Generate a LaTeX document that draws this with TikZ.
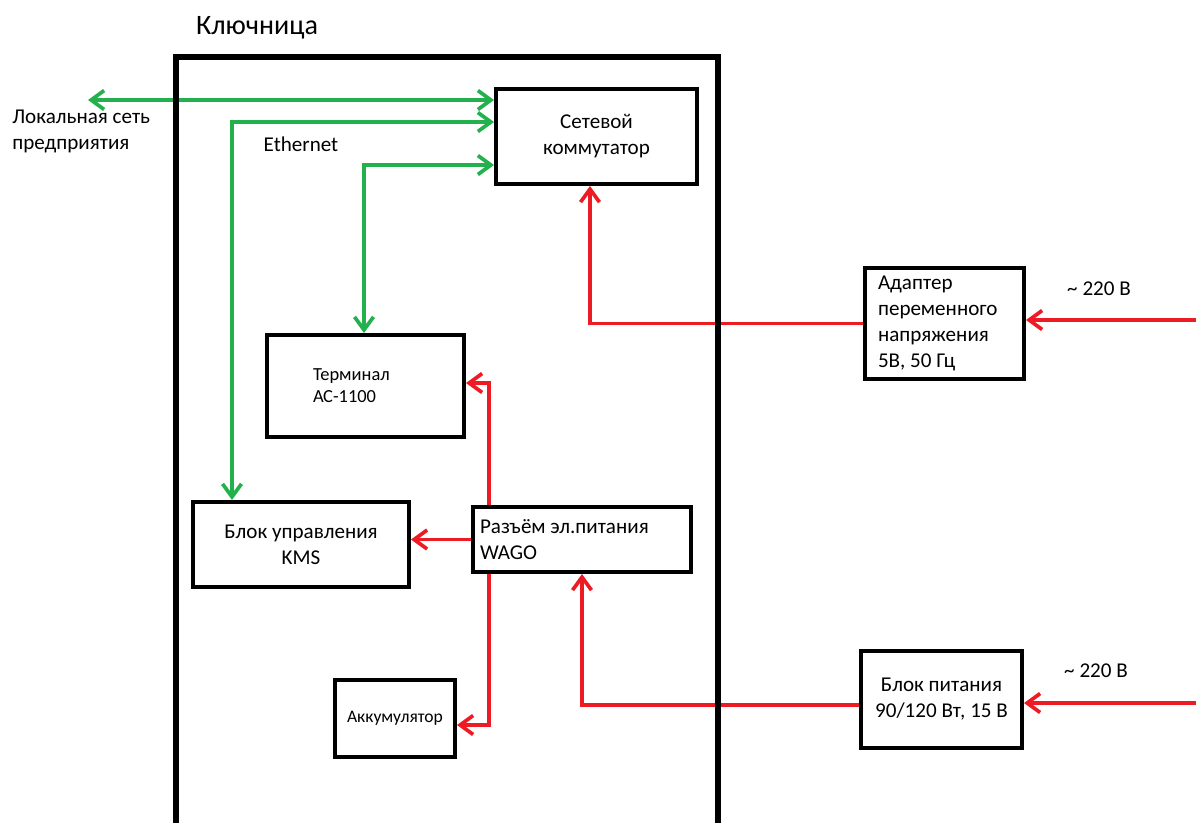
\documentclass[tikz,border=0pt]{standalone}
\usepackage{fontspec}
\setmainfont{Carlito}
\usepackage{xcolor}
\usetikzlibrary{arrows.meta, calc, positioning}
\frenchspacing

\definecolor{netgreen}{RGB}{34,177,76}
\definecolor{pwrred}{RGB}{237,28,36}

\begin{document}
\begin{tikzpicture}[x=0.02cm, y=-0.02cm,
        >={Straight Barb[length=2.6mm, width=3.8mm]},
        box/.style={draw, line width=2.3pt, inner sep=0pt, font=\fontsize{12}{14.8}\selectfont},
        lbl/.style={inner sep=0pt, font=\fontsize{12}{14.8}\selectfont},
        eth/.style={netgreen, line width=2.1pt, <->},
        pwr/.style={pwrred, line width=2.1pt, ->}]
        \useasboundingbox (0,0) rectangle (1196,823);

        \node[box, minimum width=4.02cm, minimum height=1.9cm, align=center] (sw) at (596.5,136.5)
            {Сетевой\\коммутатор};
        \node[box, minimum width=3.94cm, minimum height=2.04cm, text width=2.1cm, inner xsep=0.92cm,
              align=flush left, font=\fontsize{10.5}{12.5}\selectfont] (term) at (365.5,386)
            {Терминал\\АС-1100};
        \node[box, minimum width=4.32cm, minimum height=1.7cm, align=center] (kms) at (301,544.5)
            {Блок управления\\KMS};
        \node[box, minimum width=4.36cm, minimum height=1.3cm, text width=4.08cm, inner xsep=0.14cm,
              align=flush left] (wago) at (582,539.5)
            {Разъём эл.питания\\WAGO};
        \node[box, minimum width=2.4cm, minimum height=1.54cm, align=center,
              font=\fontsize{10}{12}\selectfont] (akk) at (395,718.5)
            {Аккумулятор};
        \node[box, minimum width=3.18cm, minimum height=2.22cm, text width=2.66cm, inner xsep=0.26cm,
              align=flush left] (adapt) at (944.5,323.5)
            {Адаптер\\переменного\\напряжения\\5В, 50 Гц};
        \node[box, minimum width=3.22cm, minimum height=1.94cm, align=center] (psu) at (941.5,699.5)
            {Блок питания\\90/120 Вт, 15 В};

        \node[lbl, font=\fontsize{16}{19}\selectfont] (title) at (257,28) {Ключница};
        \node[lbl, anchor=west, align=left] (lanlbl) at (12,131) {Локальная сеть\\предприятия};
        \node[lbl] (ethlbl) at (301,144) {Ethernet};
        \node[lbl] (aclbl1) at (1099,289) {\textasciitilde{} 220 В};
        \node[lbl] (aclbl2) at (1096,671) {\textasciitilde{} 220 В};

        \coordinate (lan) at (88,100);
        \coordinate (ebend) at (232,122);
        \coordinate (tbend) at (364,165);
        \draw[eth] (lan) -- (lan -| sw.west);
        \draw[eth] (sw.west |- ebend) -- (ebend) -- (ebend |- kms.north);
        \draw[eth] (sw.west |- tbend) -- (tbend) -- (tbend |- term.north);

        \coordinate (abend) at (590,323);
        \coordinate (acin) at (1196,320);
        \coordinate (tpw) at (489,383);
        \coordinate (apw) at (489,725);
        \coordinate (pbend) at (582,705);
        \coordinate (pin) at (1196,703);
        \draw[pwr] (adapt.west) -- (adapt.west -| abend) -- (abend |- sw.south);
        \draw[pwr] (acin) -- (acin -| adapt.east);
        \draw[pwr] (tpw |- wago.north) -- (tpw) -- (tpw -| term.east);
        \draw[pwr] (wago.west) -- (kms.east |- wago.west);
        \draw[pwr] (apw |- wago.south) -- (apw) -- (apw -| akk.east);
        \draw[pwr] (psu.west |- pbend) -- (pbend) -- (pbend |- wago.south);
        \draw[pwr] (pin) -- (pin -| psu.east);

        \draw[line width=3.4pt] (176,823) -- (176,57) -- (718,57) -- (718,823);
    \end{tikzpicture}
\end{document}
